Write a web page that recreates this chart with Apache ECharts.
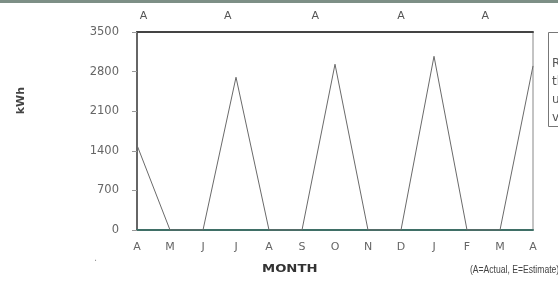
<!DOCTYPE html>
<html>
<head>
<meta charset="utf-8">
<script src="https://cdn.jsdelivr.net/npm/echarts@6/dist/echarts.min.js"></script>
<style>
html,body{margin:0;padding:0;background:#fff;}
#usage{width:558px;height:283px;}
</style>
</head>
<body>
<div id="usage"></div>
<script>
// monthly usage, Apr .. Apr
var months = ['A', 'M', 'J', 'J', 'A', 'S', 'O', 'N', 'D', 'J', 'F', 'M', 'A'];
var kwh = [1500, 0, 0, 2700, 0, 0, 2930, 0, 0, 3070, 0, 0, 2900];
var yTicks = [0, 700, 1400, 2100, 2800, 3500];
// reading type markers along the top (position in month steps)
var readPos = [0.2, 2.75, 5.4, 8.0, 10.55];
var readType = ['A', 'A', 'A', 'A', 'A'];

var chart = echarts.init(document.getElementById('usage'));

var option = {
	animation: false,
	backgroundColor: '#fff',
	grid: {left: 137, right: 25, top: 32, bottom: 53, show: true, borderColor: '#888', borderWidth: 1},
	xAxis: [{
		type: 'category',
		data: months,
		boundaryGap: false,
		axisLine: {lineStyle: {color: '#3f6f66', width: 2}},
		axisTick: {show: false},
		axisLabel: {color: '#666', fontSize: 11, fontFamily: 'DejaVu Sans', margin: 12}
	}, {
		type: 'value',
		position: 'top',
		min: 0,
		max: months.length - 1,
		axisLine: {lineStyle: {color: '#444', width: 2}},
		axisTick: {show: false},
		splitLine: {show: false},
		axisLabel: {
			customValues: readPos,
			color: '#555', fontSize: 11, fontFamily: 'DejaVu Sans', margin: 10,
			formatter: function (v) {
				var i = readPos.indexOf(v);
				return i >= 0 ? readType[i] : '';
			}
		}
	}],
	yAxis: {
		type: 'value',
		min: 0,
		max: 3500,
		interval: 700,
		axisLine: {show: true, lineStyle: {color: '#666', width: 2}},
		axisTick: {show: true, inside: false, length: 5, lineStyle: {color: '#999'}},
		splitLine: {show: false},
		axisLabel: {color: '#666', fontSize: 11.5, fontFamily: 'DejaVu Sans', margin: 18,
			formatter: function (v) { return yTicks.indexOf(v) >= 0 ? String(v) : ''; }}
	},
	series: [{
		type: 'line',
		data: kwh,
		symbol: 'none',
		lineStyle: {color: '#6a6a6a', width: 1}
	}],
	graphic: [
		{type: 'rect', left: 0, top: 0, shape: {width: 558, height: 3}, style: {fill: '#7d8f86'}},
		{type: 'text', left: 16, top: 87, rotation: Math.PI / 2, style: {text: 'kWh', fill: '#444', font: 'bold 11px "DejaVu Sans"'}},
		{type: 'text', left: 262, top: 264, scaleX: 1.2, style: {text: 'MONTH', fill: '#333', font: 'bold 11px "DejaVu Sans"'}},
		{type: 'text', left: 470, top: 264, scaleX: 0.78, style: {text: '(A=Actual, E=Estimate)', fill: '#444', font: '11px "Liberation Sans"'}},
		{type: 'text', left: 94, top: 252, style: {text: '.', fill: '#999', font: '11px "Liberation Sans"'}},
		{type: 'rect', left: 548, top: 32, shape: {width: 20, height: 94}, style: {fill: '#fff', stroke: '#777', lineWidth: 1}},
		{type: 'text', left: 552, top: 55, style: {text: 'Read\nthe\nusage\nvalues', fill: '#555', lineHeight: 18, font: '12px "DejaVu Sans"'}}
	]
};

chart.setOption(option);
</script>
</body>
</html>
